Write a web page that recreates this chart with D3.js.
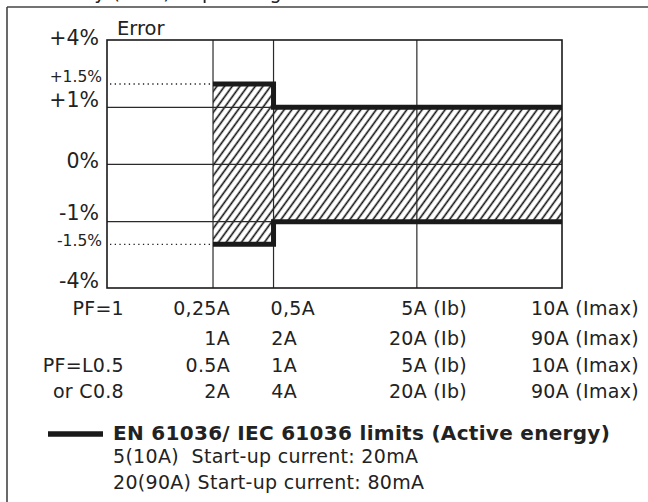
<!DOCTYPE html>
<html>
<head>
<meta charset="utf-8">
<script src="https://cdn.jsdelivr.net/npm/d3@7"></script>
<style>
  html, body { margin: 0; padding: 0; background: #fff; overflow: hidden; }
  svg { display: block; }
  svg text { font-family: "DejaVu Sans", sans-serif; fill: #222; }
</style>
</head>
<body>
<svg id="chart" width="648" height="502"></svg>
<script>
// ---------- data ----------
const titleText = "Accuracy (kWh) depending on load";
const yAxisTitle = "Error";
const yTickValues = [4, 1.5, 1, 0, -1, -1.5, -4];
const yTickLabels = ["+4%", "+1.5%", "+1%", "0%", "-1%", "-1.5%", "-4%"];
const yMajorTicks = [4, 1, 0, -1, -4];
const yGridValues = [1, 0, -1];
const xBreakValues = [0, 0.25, 0.5, 5, 10];   // current (A) for 5(10A) meter, PF=1
const xGridValues = [0.25, 0.5, 5];
const limitX = [0.25, 0.5, 0.5, 10];
const upperLimit = [1.5, 1.5, 1, 1];
const lowerLimit = [-1.5, -1.5, -1, -1];
const rowLabels = ["PF=1", "", "PF=L0.5", "or C0.8"];
const rowPF1a = ["0,25A", "0,5A", "5A (Ib)", "10A (Imax)"];
const rowPF1b = ["1A", "2A", "20A (Ib)", "90A (Imax)"];
const rowPFLa = ["0.5A", "1A", "5A (Ib)", "10A (Imax)"];
const rowPFLb = ["2A", "4A", "20A (Ib)", "90A (Imax)"];
const legendTitle = "EN 61036/ IEC 61036 limits (Active energy)";
const legendNotes = ["5(10A)  Start-up current: 20mA", "20(90A) Start-up current: 80mA"];

// ---------- layout ----------
const svg = d3.select("#chart");
const L = 107, R = 562, T = 40, B = 288;
const x = d3.scaleLinear().domain(xBreakValues)
  .range([L, L + (R - L) * 0.233, L + (R - L) * 0.366, L + (R - L) * 0.681, R]);
const y = d3.scaleLinear().domain([-4, -1.5, -1, 0, 1, 1.5, 4])
  .range([B, 244.3, 221.7, 164.3, 107.3, 84, T]);

// frame
svg.append("line").attr("x1", 7).attr("y1", 7).attr("x2", 648).attr("y2", 7)
  .attr("stroke", "#444").attr("stroke-width", 1.6);
svg.append("line").attr("x1", 7).attr("y1", 7).attr("x2", 7).attr("y2", 502)
  .attr("stroke", "#444").attr("stroke-width", 1.6);

// clipped title at top (only descenders visible, as in the reference)
svg.append("text").attr("x", 16).attr("y", -1).attr("font-size", 19)
  .attr("letter-spacing", 0.4).text(titleText);

// hatch pattern
const defs = svg.append("defs");
const pat = defs.append("pattern").attr("id", "hatch")
  .attr("patternUnits", "userSpaceOnUse").attr("width", 6.2).attr("height", 10)
  .attr("patternTransform", "rotate(36)");
pat.append("line").attr("x1", 3).attr("y1", -1).attr("x2", 3).attr("y2", 11)
  .attr("stroke", "#111").attr("stroke-width", 1.6);

// hatched band between limits
const band = d3.area().x((d, i) => x(limitX[i])).y0((d, i) => y(lowerLimit[i])).y1((d, i) => y(upperLimit[i]));
svg.append("path").datum(limitX).attr("d", band).attr("fill", "url(#hatch)");

// grid
svg.selectAll(".hgrid").data(yGridValues).enter().append("line")
  .attr("x1", L).attr("x2", R).attr("y1", d => y(d)).attr("y2", d => y(d))
  .attr("stroke", "#2a2a2a").attr("stroke-width", 1.2);
svg.selectAll(".vgrid").data(xGridValues).enter().append("line")
  .attr("y1", T).attr("y2", B).attr("x1", d => x(d)).attr("x2", d => x(d))
  .attr("stroke", "#2a2a2a").attr("stroke-width", 1.2);

// dotted lines to ±1.5%
svg.selectAll(".dot").data([1.5, -1.5]).enter().append("line")
  .attr("x1", x(0) + 3).attr("x2", x(0.25)).attr("y1", d => y(d)).attr("y2", d => y(d))
  .attr("stroke", "#222").attr("stroke-width", 1.3).attr("stroke-dasharray", "1.3,3.4");

// plot border
svg.append("rect").attr("x", L).attr("y", T).attr("width", R - L).attr("height", B - T)
  .attr("fill", "none").attr("stroke", "#1a1a1a").attr("stroke-width", 1.6);

// limit lines
const lim = d3.line().x((d, i) => x(limitX[i])).y(d => y(d)).curve(d3.curveLinear);
[upperLimit, lowerLimit].forEach(arr => {
  svg.append("path").datum(arr).attr("d", lim).attr("fill", "none")
    .attr("stroke", "#1a1a1a").attr("stroke-width", 5).attr("stroke-linejoin", "miter")
    .attr("stroke-linecap", "butt");
});

// y labels
const yLabelDy = { "4": 5, "1.5": -2, "1": 0, "0": 4, "-1": -1.5, "-1.5": 2, "-4": 0 };
svg.selectAll(".ylab").data(yTickValues).enter().append("text")
  .attr("x", d => yMajorTicks.includes(d) ? 99 : 102)
  .attr("y", d => y(d) + yLabelDy[String(d)])
  .attr("text-anchor", "end")
  .attr("font-size", d => yMajorTicks.includes(d) ? 20.5 : 15.5)
  .text((d, i) => yTickLabels[i]);

svg.append("text").attr("x", 117).attr("y", 35).attr("font-size", 19.5).text(yAxisTitle);

// table of currents
const rows = [rowPF1a, rowPF1b, rowPFLa, rowPFLb];
const rowY = [314.5, 344.5, 371.5, 398];
const colRight = [230, 297, 467, 639];
rowLabels.forEach((lab, r) => {
  svg.append("text").attr("x", 124).attr("y", rowY[r]).attr("text-anchor", "end")
    .attr("font-size", 19).attr("letter-spacing", 0.3).text(lab);
});
rows.forEach((row, r) => {
  svg.selectAll(null).data(row).enter().append("text")
    .attr("x", (d, c) => (r === 0 && c === 1) ? 315 : colRight[c])
    .attr("y", rowY[r]).attr("text-anchor", "end")
    .attr("font-size", 19).attr("letter-spacing", 0.3).text(d => d);
});

// legend
svg.append("line").attr("x1", 48).attr("x2", 103).attr("y1", 434).attr("y2", 434)
  .attr("stroke", "#1a1a1a").attr("stroke-width", 5.5);
svg.append("text").attr("x", 113).attr("y", 440).attr("font-size", 20)
  .attr("letter-spacing", 0.3).attr("font-weight", "bold").text(legendTitle);
legendNotes.forEach((t, i) => {
  svg.append("text").attr("x", 113).attr("y", 463 + i * 26).attr("font-size", 19)
    .attr("letter-spacing", 0.3).style("white-space", "pre").text(t);
});
</script>
</body>
</html>
